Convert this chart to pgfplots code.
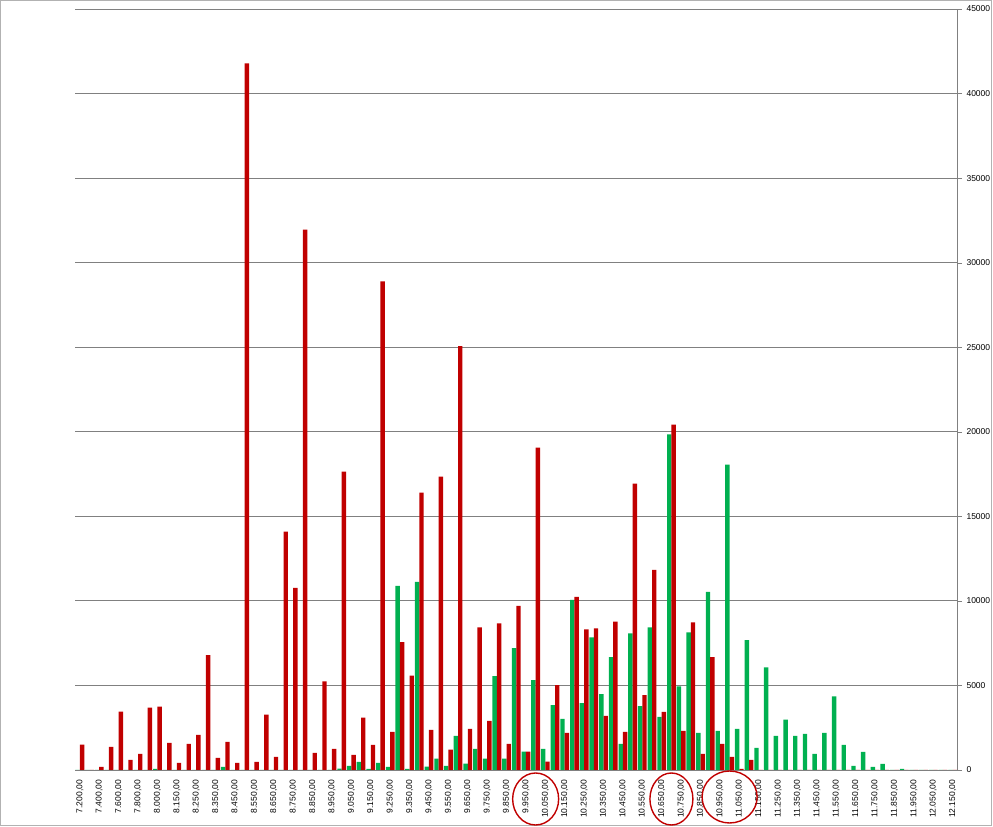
\documentclass[border=0pt]{standalone}
\usepackage{pgfplots}
\usepackage{pgfplotstable}
\usepackage{fontspec}
\setmainfont{Liberation Sans}
\pgfplotsset{compat=1.18}
\definecolor{barred}{HTML}{C00000}
\definecolor{bargreen}{HTML}{00B050}
\definecolor{gridgray}{HTML}{808080}

% x = category index, g = green series, r = red series
\pgfplotstableread{
x g r
0 0 1500
1 0 0
2 0 180
3 0 1370
4 0 3450
5 0 600
6 0 950
7 0 3690
8 60 3750
9 0 1600
10 0 420
11 0 1550
12 0 2080
13 0 6790
14 0 710
15 180 1670
16 0 420
17 0 41790
18 0 480
19 0 3270
20 0 770
21 0 14090
22 0 10770
23 0 31950
24 0 1010
25 0 5240
26 0 1250
27 80 17650
28 240 890
29 480 3100
30 60 1490
31 420 28900
32 180 2260
33 10890 7560
34 60 5580
35 11130 16400
36 200 2370
37 670 17350
38 250 1200
39 2020 25060
40 370 2430
41 1250 8430
42 670 2900
43 5550 8670
44 670 1550
45 7200 9700
46 1080 1080
47 5310 19070
48 1250 490
49 3840 5020
50 3020 2200
51 10060 10240
52 3960 8310
53 7840 8370
54 4490 3200
55 6670 8780
56 1550 2250
57 8080 16940
58 3780 4430
59 8430 11840
60 3140 3430
61 19840 20430
62 4940 2310
63 8140 8730
64 2200 960
65 10530 6670
66 2310 1550
67 18060 780
68 2430 70
69 7680 600
70 1310 0
71 6070 0
72 2020 0
73 2980 0
74 2020 0
75 2140 0
76 950 0
77 2200 0
78 4350 0
79 1490 0
80 240 0
81 1070 0
82 180 0
83 360 0
84 0 0
85 60 0
86 0 0
87 0 0
88 0 0
89 0 0
90 0 0
}\pricedata

\begin{document}
\begin{tikzpicture}
\path[use as bounding box] (0,0) rectangle (993pt,827pt);
\draw[gray!60] (0.5pt,1.5pt) rectangle (991pt,826.5pt);
\begin{axis}[
  at={(75pt,57pt)}, anchor=south west,
  scale only axis, width=882.5pt, height=761pt,
  clip=false,
  ybar=0pt, bar width=4.4pt,
  xmin=-0.5, xmax=90.5, ymin=0, ymax=45000,
  axis x line=bottom, axis y line=right,
  axis line style={-, draw=gridgray},
  ymajorgrids, grid style={gridgray, line width=0.8pt},
  ytick={0,5000,...,45000},
  scaled y ticks=false,
  yticklabel style={font=\fontsize{8.5}{10}\selectfont, /pgf/number format/1000 sep={}, /pgf/number format/assume math mode=true, xshift=1pt},
  tick align=outside, major tick length=4.5pt,
  ytick style={draw=gridgray},
  xtick={0,2,...,90}, xtick style={draw=none},
  xticklabels={{7.200,00},{7.400,00},{7.600,00},{7.800,00},{8.000,00},{8.150,00},{8.250,00},{8.350,00},{8.450,00},{8.550,00},{8.650,00},{8.750,00},{8.850,00},{8.950,00},{9.050,00},{9.150,00},{9.250,00},{9.350,00},{9.450,00},{9.550,00},{9.650,00},{9.750,00},{9.850,00},{9.950,00},{10.050,00},{10.150,00},{10.250,00},{10.350,00},{10.450,00},{10.550,00},{10.650,00},{10.750,00},{10.850,00},{10.950,00},{11.050,00},{11.150,00},{11.250,00},{11.350,00},{11.450,00},{11.550,00},{11.650,00},{11.750,00},{11.850,00},{11.950,00},{12.050,00},{12.150,00}},
  xticklabel style={rotate=90, anchor=east, font=\fontsize{8.5}{10}\selectfont, xshift=-2pt},
]
\addplot[fill=bargreen, draw=none] table[x=x, y=g] {\pricedata};
\addplot[fill=barred, draw=none] table[x=x, y=r] {\pricedata};
\draw[barred, line width=1.4pt] ([yshift=-29pt]axis cs:47,0) ellipse [x radius=23pt, y radius=26pt];
\draw[barred, line width=1.4pt] ([yshift=-29pt]axis cs:61,0) ellipse [x radius=21.5pt, y radius=26pt];
\draw[barred, line width=1.4pt] ([yshift=-27pt]axis cs:67,0) ellipse [x radius=27.5pt, y radius=26pt];
\end{axis}
\end{tikzpicture}
\end{document}
